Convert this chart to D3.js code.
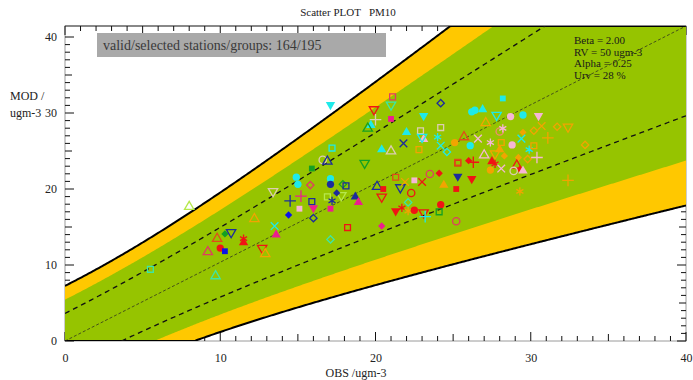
<!DOCTYPE html>
<html>
<head>
<meta charset="utf-8">
<script src="https://cdn.jsdelivr.net/npm/d3@7"></script>
<style>
  body { margin: 0; background: #fff; }
  text { font-family: "Liberation Serif", "DejaVu Serif", serif; }
</style>
</head>
<body>
<svg id="chart" width="693" height="380"></svg>
<script>
const obs = [
  8.0, 13.4, 12.2, 13.5, 13.6, 9.8, 10.3, 10.7, 11.5, 11.5, 10.0, 10.3, 9.2, 12.7, 12.9, 5.5, 9.7,
  17.1, 21.1, 21.0, 19.9, 24.2, 23.1, 21.0, 20.0, 19.7, 19.5, 24.2, 22.9, 22.0, 23.1, 23.0, 24.0, 24.2, 24.6, 25.1,
  21.8, 20.4, 21.0, 22.8, 17.2, 16.6, 16.9, 15.9, 19.3, 25.3, 14.9, 15.0, 15.8, 17.1, 17.1, 17.9, 18.1, 20.1, 20.5,
  21.6, 21.3, 21.9, 22.3, 22.5, 23.0, 23.5, 24.1, 24.4, 25.3, 25.2, 17.8, 16.9, 18.7, 18.9, 17.5, 17.2, 20.4, 14.5,
  15.2, 15.9, 15.1, 16.0, 17.1, 14.4, 16.0, 21.3, 21.7, 22.1, 22.5, 22.1, 23.1, 23.2, 24.2, 24.1, 25.2, 18.2, 20.4, 17.1,
  28.2, 26.2, 26.4, 26.9, 27.8, 28.7, 29.5, 30.5, 27.1, 28.0, 28.2, 29.5, 30.2, 30.7, 31.7, 32.4, 31.1, 25.7, 26.6,
  27.4, 28.1, 28.8, 29.4, 29.9, 30.2, 33.5, 26.1, 27.7, 27.0, 28.0, 28.3, 29.2, 29.8, 30.4, 25.3, 26.0, 26.3, 27.5,
  27.7, 27.4, 28.1, 29.1, 29.3, 29.5, 28.9, 26.2, 29.3, 32.4
];
const mod = [
  17.05, 19.0, 15.5, 14.6, 13.5, 13.0, 13.6, 13.8, 13.0, 12.5, 11.8, 11.4, 11.3, 11.8, 11.05, 9.1, 8.25,
  30.0, 31.0, 30.0, 29.4, 30.2, 28.6, 28.2, 28.1, 27.4, 27.0, 27.1, 26.7, 26.5, 25.6, 25.9, 25.9, 24.8, 24.0, 25.2,
  25.1, 24.3, 24.1, 24.3, 24.5, 23.0, 22.8, 21.9, 22.6, 22.6, 20.8, 19.9, 19.8, 20.6, 19.9, 19.9, 19.7, 19.6, 19.3,
  19.5, 20.8, 20.2, 18.8, 20.4, 20.2, 21.2, 21.3, 19.8, 20.9, 19.3, 18.5, 18.3, 18.3, 17.6, 18.8, 17.8, 18.3, 17.8,
  18.4, 17.7, 16.8, 16.9, 16.8, 16.0, 15.6, 16.5, 16.9, 16.5, 16.6, 17.6, 16.3, 15.8, 17.3, 16.4, 15.2, 14.4, 14.6, 12.9,
  30.8, 29.1, 29.3, 29.4, 28.7, 28.5, 28.7, 28.6, 27.7, 26.6, 27.0, 26.5, 26.7, 27.3, 27.2, 27.2, 25.8, 25.9, 25.7,
  25.2, 25.2, 24.9, 25.7, 24.3, 24.8, 24.9, 24.8, 23.8, 23.6, 24.3, 23.5, 23.3, 23.1, 23.3, 22.7, 22.9, 22.7, 22.8,
  22.5, 21.7, 21.9, 22.3, 21.8, 21.6, 21.6, 20.6, 19.0, 20.4
];
// f = filled, o = open; c circle, s square, t triangle, v triangle down, d diamond
const markers = [
  'ot','ov','ot','x','ft','ot','fd','ov','*','ft','fc','fs','ot','ov','ot','os','ot',
  'fv','os','ov','ov','od','fv','fs','+','ft','ot','os','os','ft','ft','ov','*','x','od','fc',
  'x','ft','ot','os','os','oc','ot','fs','ov','os','fc','fc','od','fc','fc','od','os','ot','fs',
  'ov','os','x','oc','fs','x','oc','fd','ft','fv','fs','ov','os','ft','ft','fd','*','ov','+',
  '+','os','fs','fv','fs','fd','od','fv','*','*','fc','od','ov','+','fc','os','oc','os','fd','od',
  'fs','fc','fc','ft','ov','fc','fc','fv','ot','oc','*','fd','od','x','od','ov','+','ot','x',
  '*','os','fc','x','*','os','od','fc','ov','ot','ft','fd','fd','od','+','os','fd','+','ft',
  '*','fc','x','ot','fd','ft','oc','fv','*','+'
];
const colours = [
  'lime','tan','orange','cyan','magenta','redorange','green','navy','red','red','red','blue','crimson','red','orange','aqua','aqua',
  'cyan','crimson','aqua','red','navy','cyan','magenta','tan','cyan','green','tan','tan','cyan','pink','cyan','cyan','cyan','cyan','orange',
  'navy','cyan','tan','orange','cyan','tan','navy','green','green','red','cyan','cyan','crimson','cyan','navy','green','navy','navy','red',
  'navy','redorange','orange','red','pink','red','crimson','red','orange','navy','red','lime','lime','navy','magenta','navy','navy','red','navy',
  'magenta','navy','pink','magenta','magenta','blue','navy','red','red','orange','red','aqua','red','cyan','red','green','crimson','red','magenta','aqua',
  'cyan','cyan','cyan','cyan','cyan','pink','cyan','pink','orange','salmon','pink','orange','orange','orange','orange','orange','orange','redorange','pink',
  'pink','orange','pink','cyan','cyan','orange','orange','cyan','orange','pink','orange','orange','orange','orange','pink','redorange','red','red','red',
  'red','orange','pink','red','red','pink','tan','red','orange','orange'
];
const xTicks = [0, 10, 20, 30, 40];
const yTicks = [0, 10, 20, 30, 40];
const params = ['Beta = 2.00', 'RV = 50 ugm-3', 'Alpha = 0.25', 'Urv = 28 %'];
const infoText = 'valid/selected stations/groups: 164/195';

const beta = 2.0, rv = 50, alpha = 0.25, urv = 0.28;

const palette = {
  red: '#f01414', navy: '#1c2c9c', blue: '#0c14e6', cyan: '#1eeaea', magenta: '#ec1e8e',
  pink: '#f6b6d4', orange: '#f2a400', tan: '#dccdb2', green: '#14a022', crimson: '#e03c62',
  aqua: '#3ce6a8', lime: '#b6e84c', redorange: '#e04c1a', salmon: '#f08a70'
};

const svg = d3.select('#chart');
const pLeft = 65, pRight = 686, pTop = 26, pBottom = 341;

const x = d3.scaleLinear().domain([0, 40]).range([pLeft, pRight]);
const y = d3.scaleLinear().domain([0, 40]).range([pBottom, pTop]);
// the printed tick marks sit on a slightly shorter scale than the plot frame
const yAx = d3.scaleLinear().domain([0, 40]).range([pBottom, 37]);

// uncertainty of the observations
const unc = o => urv * Math.sqrt((1 - alpha * alpha) * o * o + alpha * alpha * rv * rv);
const grid = d3.range(0, 40.001, 0.1);

// ---- axes (drawn first, zones cover them)
const minor = d3.range(0, 41);
const tickLen = v => v % 10 === 0 ? 9 : (v % 5 === 0 ? 7 : 5);

svg.append('rect')
  .attr('x', pLeft).attr('y', pTop)
  .attr('width', pRight - pLeft).attr('height', pBottom - pTop)
  .attr('fill', 'none').attr('stroke', '#9a9a9a').attr('stroke-width', 1);
svg.append('line')
  .attr('x1', pLeft).attr('x2', pRight).attr('y1', pTop).attr('y2', pTop)
  .attr('stroke', '#444').attr('stroke-width', 1);

const ticks = svg.append('g').attr('stroke', '#111').attr('stroke-width', 1);
ticks.append('g').selectAll('line').data(minor).join('line')
  .attr('x1', d => x(d)).attr('x2', d => x(d))
  .attr('y1', pBottom).attr('y2', d => pBottom - tickLen(d));
ticks.append('g').selectAll('line').data(minor).join('line')
  .attr('x1', d => x(d)).attr('x2', d => x(d))
  .attr('y1', pTop).attr('y2', d => pTop + tickLen(d));
ticks.append('g').selectAll('line').data(minor.filter(d => yAx(d) > pTop)).join('line')
  .attr('y1', d => yAx(d)).attr('y2', d => yAx(d))
  .attr('x1', pLeft).attr('x2', d => pLeft + tickLen(d));
ticks.append('g').selectAll('line').data(minor.filter(d => yAx(d) > pTop)).join('line')
  .attr('y1', d => yAx(d)).attr('y2', d => yAx(d))
  .attr('x1', pRight).attr('x2', d => pRight - tickLen(d));

svg.append('g')
  .attr('transform', `translate(0,${pBottom})`)
  .call(d3.axisBottom(x).tickValues(xTicks).tickSize(0).tickPadding(12).tickFormat(d3.format('d')))
  .call(g => g.select('.domain').remove())
  .selectAll('text').attr('font-size', 12).attr('fill', '#222');

svg.append('g')
  .attr('transform', `translate(${pLeft},0)`)
  .call(d3.axisLeft(yAx).tickValues(yTicks).tickSize(0).tickPadding(8).tickFormat(d3.format('d')))
  .call(g => g.select('.domain').remove())
  .selectAll('text').attr('font-size', 12).attr('fill', '#222');

// ---- acceptance zones
svg.append('clipPath').attr('id', 'plot')
  .append('rect').attr('x', pLeft).attr('y', pTop).attr('width', pRight - pLeft).attr('height', pBottom - pTop);

const zones = svg.append('g').attr('clip-path', 'url(#plot)');

const band = k => grid.map(o => [o, o + k * unc(o)])
  .concat(grid.slice().reverse().map(o => [o, o - k * unc(o)]));
const poly = d3.line().x(d => x(d[0])).y(d => y(d[1]));

zones.append('path').attr('d', poly(band(beta)) + 'Z').attr('fill', '#ffc800');
zones.append('path').attr('d', poly(band(beta * 0.75)) + 'Z').attr('fill', '#96c400');

const yc = y.copy().clamp(true);
const edge = d3.line().x(d => x(d[0])).y(d => yc(d[1]));
zones.append('path').attr('d', edge(grid.map(o => [o, o + beta * unc(o)]).concat([[40, 40]])))
  .attr('fill', 'none').attr('stroke', '#000').attr('stroke-width', 2);
zones.append('path').attr('d', edge(grid.map(o => [o, o - beta * unc(o)])))
  .attr('fill', 'none').attr('stroke', '#000').attr('stroke-width', 2);

[1, -1].forEach(s => {
  zones.append('path').attr('d', poly(grid.map(o => [o, o + s * unc(o)])))
    .attr('fill', 'none').attr('stroke', '#111').attr('stroke-width', 1.3)
    .attr('stroke-dasharray', '5,4');
});
zones.append('path').attr('d', poly([[0, 0], [40, 40]]))
  .attr('fill', 'none').attr('stroke', '#222').attr('stroke-width', 0.7)
  .attr('stroke-dasharray', '3,2');

// ---- stations
const shapeOf = {
  c: d3.symbolCircle, s: d3.symbolSquare, t: d3.symbolTriangle, v: d3.symbolTriangle,
  d: d3.symbolDiamond2, '+': d3.symbolPlus, x: d3.symbolTimes, '*': d3.symbolAsterisk
};
const sizeOf = { c: 42, s: 34, t: 38, v: 38, d: 34, '+': 46, x: 40, '*': 46 };

const pts = obs.map((o, i) => ({ o, m: mod[i], mk: markers[i], col: palette[colours[i]] }));
const kindOf = mk => mk.length === 2 ? mk[1] : mk;

zones.append('g').selectAll('path').data(pts).join('path')
  .attr('transform', d => `translate(${x(d.o)},${y(d.m)})` + (kindOf(d.mk) === 'v' ? ' rotate(180)' : ''))
  .attr('d', d => d3.symbol(shapeOf[kindOf(d.mk)], sizeOf[kindOf(d.mk)])())
  .attr('fill', d => d.mk[0] === 'f' ? d.col : 'none')
  .attr('stroke', d => d.mk[0] === 'f' ? 'none' : d.col)
  .attr('stroke-width', 1.3);

// ---- texts
svg.append('rect').attr('x', 97).attr('y', 33).attr('width', 289).attr('height', 24).attr('fill', '#a9a9a9');
svg.append('text').attr('x', 103).attr('y', 50).attr('font-size', 14).attr('fill', '#3a3a3a').text(infoText);

svg.append('text').attr('x', 348).attr('y', 16).attr('text-anchor', 'middle')
  .style('white-space', 'pre')
  .attr('font-size', 11).attr('fill', '#222').text('Scatter PLOT   PM10');

svg.append('g').selectAll('text').data(params).join('text')
  .attr('x', 574).attr('y', (d, i) => 44 + i * 11.5)
  .attr('font-size', 11).attr('fill', '#1a1a1a').text(d => d);

svg.append('text').attr('x', 10).attr('y', 100).attr('font-size', 12).attr('fill', '#222').text('MOD /');
svg.append('text').attr('x', 10).attr('y', 117).attr('font-size', 12).attr('fill', '#222').text('ugm-3');
svg.append('text').attr('x', 356).attr('y', 377).attr('text-anchor', 'middle')
  .attr('font-size', 12).attr('fill', '#222').text('OBS /ugm-3');
</script>
</body>
</html>
